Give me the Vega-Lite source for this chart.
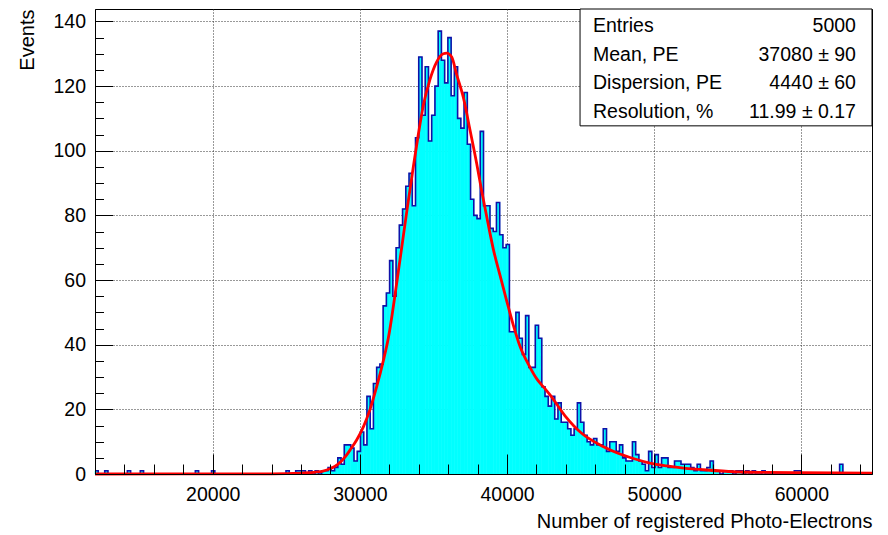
{
  "$schema": "https://vega.github.io/schema/vega-lite/v6.json",
  "width": 777,
  "height": 465,
  "autosize": {"type": "none"},
  "padding": {"left": 95, "top": 9, "right": 16, "bottom": 61},
  "background": "white",
  "config": {
    "view": {"stroke": "black", "strokeWidth": 1},
    "font": "Liberation Sans",
    "axis": {
      "labelFont": "Liberation Sans",
      "titleFont": "Liberation Sans",
      "labelColor": "black",
      "titleColor": "black",
      "labelFontSize": 19.5,
      "titleFontSize": 20,
      "titleFontWeight": "normal",
      "tickColor": "black",
      "tickWidth": 1,
      "domainColor": "black",
      "domainWidth": 1,
      "gridColor": "#333333",
      "gridDash": [1, 2],
      "gridWidth": 1
    }
  },
  "datasets": {
    "hist": [
      {"x0":12000,"x1":12220,"n":1},{"x0":12220,"x1":12440,"n":0},{"x0":12440,"x1":12660,"n":0},{"x0":12660,"x1":12880,"n":1},
      {"x0":12880,"x1":13100,"n":0},{"x0":13100,"x1":13320,"n":0},{"x0":13320,"x1":13540,"n":0},{"x0":13540,"x1":13760,"n":0},
      {"x0":13760,"x1":13980,"n":0},{"x0":13980,"x1":14200,"n":0},{"x0":14200,"x1":14420,"n":1},{"x0":14420,"x1":14640,"n":0},
      {"x0":14640,"x1":14860,"n":0},{"x0":14860,"x1":15080,"n":0},{"x0":15080,"x1":15300,"n":1},{"x0":15300,"x1":15520,"n":0},
      {"x0":15520,"x1":15740,"n":0},{"x0":15740,"x1":15960,"n":0},{"x0":15960,"x1":16180,"n":0},{"x0":16180,"x1":16400,"n":0},
      {"x0":16400,"x1":16620,"n":0},{"x0":16620,"x1":16840,"n":0},{"x0":16840,"x1":17060,"n":0},{"x0":17060,"x1":17280,"n":0},
      {"x0":17280,"x1":17500,"n":0},{"x0":17500,"x1":17720,"n":0},{"x0":17720,"x1":17940,"n":0},{"x0":17940,"x1":18160,"n":0},
      {"x0":18160,"x1":18380,"n":0},{"x0":18380,"x1":18600,"n":0},{"x0":18600,"x1":18820,"n":0},{"x0":18820,"x1":19040,"n":1},
      {"x0":19040,"x1":19260,"n":0},{"x0":19260,"x1":19480,"n":0},{"x0":19480,"x1":19700,"n":0},{"x0":19700,"x1":19920,"n":0},
      {"x0":19920,"x1":20140,"n":1},{"x0":20140,"x1":20360,"n":0},{"x0":20360,"x1":20580,"n":0},{"x0":20580,"x1":20800,"n":0},
      {"x0":20800,"x1":21020,"n":0},{"x0":21020,"x1":21240,"n":0},{"x0":21240,"x1":21460,"n":0},{"x0":21460,"x1":21680,"n":0},
      {"x0":21680,"x1":21900,"n":0},{"x0":21900,"x1":22120,"n":0},{"x0":22120,"x1":22340,"n":0},{"x0":22340,"x1":22560,"n":0},
      {"x0":22560,"x1":22780,"n":0},{"x0":22780,"x1":23000,"n":0},{"x0":23000,"x1":23220,"n":0},{"x0":23220,"x1":23440,"n":0},
      {"x0":23440,"x1":23660,"n":0},{"x0":23660,"x1":23880,"n":0},{"x0":23880,"x1":24100,"n":0},{"x0":24100,"x1":24320,"n":0},
      {"x0":24320,"x1":24540,"n":0},{"x0":24540,"x1":24760,"n":0},{"x0":24760,"x1":24980,"n":0},{"x0":24980,"x1":25200,"n":1},
      {"x0":25200,"x1":25420,"n":0},{"x0":25420,"x1":25640,"n":0},{"x0":25640,"x1":25860,"n":1},{"x0":25860,"x1":26080,"n":1},
      {"x0":26080,"x1":26300,"n":1},{"x0":26300,"x1":26520,"n":0},{"x0":26520,"x1":26740,"n":1},{"x0":26740,"x1":26960,"n":0},
      {"x0":26960,"x1":27180,"n":1},{"x0":27180,"x1":27400,"n":0},{"x0":27400,"x1":27620,"n":1},{"x0":27620,"x1":27840,"n":1},
      {"x0":27840,"x1":28060,"n":2},{"x0":28060,"x1":28280,"n":1},{"x0":28280,"x1":28500,"n":2},{"x0":28500,"x1":28720,"n":5},
      {"x0":28720,"x1":28940,"n":3},{"x0":28940,"x1":29160,"n":9},{"x0":29160,"x1":29380,"n":9},{"x0":29380,"x1":29600,"n":8},
      {"x0":29600,"x1":29820,"n":4},{"x0":29820,"x1":30040,"n":7},{"x0":30040,"x1":30260,"n":13},{"x0":30260,"x1":30480,"n":9},
      {"x0":30480,"x1":30700,"n":24},{"x0":30700,"x1":30920,"n":14},{"x0":30920,"x1":31140,"n":28},{"x0":31140,"x1":31360,"n":33},
      {"x0":31360,"x1":31580,"n":34},{"x0":31580,"x1":31800,"n":52},{"x0":31800,"x1":32020,"n":56},{"x0":32020,"x1":32240,"n":66},
      {"x0":32240,"x1":32460,"n":55},{"x0":32460,"x1":32680,"n":70},{"x0":32680,"x1":32900,"n":77},{"x0":32900,"x1":33120,"n":82},
      {"x0":33120,"x1":33340,"n":89},{"x0":33340,"x1":33560,"n":93},{"x0":33560,"x1":33780,"n":83},{"x0":33780,"x1":34000,"n":104},
      {"x0":34000,"x1":34220,"n":129},{"x0":34220,"x1":34440,"n":111},{"x0":34440,"x1":34660,"n":126},{"x0":34660,"x1":34880,"n":103},
      {"x0":34880,"x1":35100,"n":111},{"x0":35100,"x1":35320,"n":120},{"x0":35320,"x1":35540,"n":137},{"x0":35540,"x1":35760,"n":128},
      {"x0":35760,"x1":35980,"n":121},{"x0":35980,"x1":36200,"n":135},{"x0":36200,"x1":36420,"n":117},{"x0":36420,"x1":36640,"n":126},
      {"x0":36640,"x1":36860,"n":110},{"x0":36860,"x1":37080,"n":107},{"x0":37080,"x1":37300,"n":118},{"x0":37300,"x1":37520,"n":102},
      {"x0":37520,"x1":37740,"n":85},{"x0":37740,"x1":37960,"n":80},{"x0":37960,"x1":38180,"n":79},{"x0":38180,"x1":38400,"n":106},
      {"x0":38400,"x1":38620,"n":83},{"x0":38620,"x1":38840,"n":83},{"x0":38840,"x1":39060,"n":76},{"x0":39060,"x1":39280,"n":75},
      {"x0":39280,"x1":39500,"n":84},{"x0":39500,"x1":39720,"n":74},{"x0":39720,"x1":39940,"n":70},{"x0":39940,"x1":40160,"n":71},
      {"x0":40160,"x1":40380,"n":44},{"x0":40380,"x1":40600,"n":44},{"x0":40600,"x1":40820,"n":50},{"x0":40820,"x1":41040,"n":42},
      {"x0":41040,"x1":41260,"n":37},{"x0":41260,"x1":41480,"n":49},{"x0":41480,"x1":41700,"n":33},{"x0":41700,"x1":41920,"n":33},
      {"x0":41920,"x1":42140,"n":46},{"x0":42140,"x1":42360,"n":42},{"x0":42360,"x1":42580,"n":27},{"x0":42580,"x1":42800,"n":24},
      {"x0":42800,"x1":43020,"n":21},{"x0":43020,"x1":43240,"n":24},{"x0":43240,"x1":43460,"n":17},{"x0":43460,"x1":43680,"n":22},
      {"x0":43680,"x1":43900,"n":16},{"x0":43900,"x1":44120,"n":16},{"x0":44120,"x1":44340,"n":14},{"x0":44340,"x1":44560,"n":12},
      {"x0":44560,"x1":44780,"n":14},{"x0":44780,"x1":45000,"n":22},{"x0":45000,"x1":45220,"n":16},{"x0":45220,"x1":45440,"n":12},
      {"x0":45440,"x1":45660,"n":10},{"x0":45660,"x1":45880,"n":9},{"x0":45880,"x1":46100,"n":11},{"x0":46100,"x1":46320,"n":9},
      {"x0":46320,"x1":46540,"n":9},{"x0":46540,"x1":46760,"n":14},{"x0":46760,"x1":46980,"n":7},{"x0":46980,"x1":47200,"n":10},
      {"x0":47200,"x1":47420,"n":10},{"x0":47420,"x1":47640,"n":7},{"x0":47640,"x1":47860,"n":9},{"x0":47860,"x1":48080,"n":5},
      {"x0":48080,"x1":48300,"n":4},{"x0":48300,"x1":48520,"n":4},{"x0":48520,"x1":48740,"n":10},{"x0":48740,"x1":48960,"n":6},
      {"x0":48960,"x1":49180,"n":4},{"x0":49180,"x1":49400,"n":3},{"x0":49400,"x1":49620,"n":1},{"x0":49620,"x1":49840,"n":7},
      {"x0":49840,"x1":50060,"n":2},{"x0":50060,"x1":50280,"n":6},{"x0":50280,"x1":50500,"n":2},{"x0":50500,"x1":50720,"n":5},
      {"x0":50720,"x1":50940,"n":5},{"x0":50940,"x1":51160,"n":2},{"x0":51160,"x1":51380,"n":2},{"x0":51380,"x1":51600,"n":4},
      {"x0":51600,"x1":51820,"n":4},{"x0":51820,"x1":52040,"n":3},{"x0":52040,"x1":52260,"n":3},{"x0":52260,"x1":52480,"n":3},
      {"x0":52480,"x1":52700,"n":2},{"x0":52700,"x1":52920,"n":1},{"x0":52920,"x1":53140,"n":3},{"x0":53140,"x1":53360,"n":1},
      {"x0":53360,"x1":53580,"n":1},{"x0":53580,"x1":53800,"n":2},{"x0":53800,"x1":54020,"n":4},{"x0":54020,"x1":54240,"n":1},
      {"x0":54240,"x1":54460,"n":1},{"x0":54460,"x1":54680,"n":0},{"x0":54680,"x1":54900,"n":1},{"x0":54900,"x1":55120,"n":1},
      {"x0":55120,"x1":55340,"n":1},{"x0":55340,"x1":55560,"n":0},{"x0":55560,"x1":55780,"n":1},{"x0":55780,"x1":56000,"n":1},
      {"x0":56000,"x1":56220,"n":0},{"x0":56220,"x1":56440,"n":1},{"x0":56440,"x1":56660,"n":0},{"x0":56660,"x1":56880,"n":1},
      {"x0":56880,"x1":57100,"n":0},{"x0":57100,"x1":57320,"n":0},{"x0":57320,"x1":57540,"n":1},{"x0":57540,"x1":57760,"n":0},
      {"x0":57760,"x1":57980,"n":0},{"x0":57980,"x1":58200,"n":0},{"x0":58200,"x1":58420,"n":0},{"x0":58420,"x1":58640,"n":0},
      {"x0":58640,"x1":58860,"n":0},{"x0":58860,"x1":59080,"n":0},{"x0":59080,"x1":59300,"n":0},{"x0":59300,"x1":59520,"n":0},
      {"x0":59520,"x1":59740,"n":1},{"x0":59740,"x1":59960,"n":1},{"x0":59960,"x1":60180,"n":0},{"x0":60180,"x1":60400,"n":0},
      {"x0":60400,"x1":60620,"n":0},{"x0":60620,"x1":60840,"n":0},{"x0":60840,"x1":61060,"n":0},{"x0":61060,"x1":61280,"n":0},
      {"x0":61280,"x1":61500,"n":0},{"x0":61500,"x1":61720,"n":0},{"x0":61720,"x1":61940,"n":0},{"x0":61940,"x1":62160,"n":0},
      {"x0":62160,"x1":62380,"n":0},{"x0":62380,"x1":62600,"n":0},{"x0":62600,"x1":62820,"n":3},{"x0":62820,"x1":63040,"n":0},
      {"x0":63040,"x1":63260,"n":0},{"x0":63260,"x1":63480,"n":0},{"x0":63480,"x1":63700,"n":0},{"x0":63700,"x1":63920,"n":0},
      {"x0":63920,"x1":64140,"n":0},{"x0":64140,"x1":64360,"n":0},{"x0":64360,"x1":64580,"n":0},{"x0":64580,"x1":64800,"n":0},
      {"x0":64800,"x1":64800,"n":0}
    ],
    "fit": [
      {"x":12000,"y":0},{"x":24000,"y":0.05},{"x":26000,"y":0.3},{"x":27000,"y":0.6},{"x":27500,"y":0.9},
      {"x":28000,"y":1.7},{"x":28500,"y":3},{"x":29000,"y":5.3},{"x":29330,"y":7.4},{"x":29780,"y":10.5},
      {"x":30230,"y":14.5},{"x":30690,"y":20},{"x":31140,"y":27},{"x":31590,"y":35},{"x":31930,"y":42},
      {"x":32500,"y":59},{"x":32840,"y":70},{"x":33180,"y":81},{"x":33630,"y":95},{"x":33970,"y":105},
      {"x":34310,"y":114},{"x":34760,"y":122},{"x":35220,"y":127.5},{"x":35670,"y":130},{"x":35900,"y":130.2},
      {"x":36240,"y":129},{"x":36580,"y":123.5},{"x":37030,"y":116.5},{"x":37480,"y":106.5},{"x":37940,"y":96},
      {"x":38280,"y":87.5},{"x":38730,"y":77},{"x":39070,"y":69.5},{"x":39520,"y":61.5},{"x":39980,"y":53.5},
      {"x":40430,"y":46},{"x":40880,"y":39.5},{"x":41560,"y":33},{"x":42010,"y":29.5},{"x":42460,"y":27},
      {"x":42920,"y":24.5},{"x":43940,"y":18},{"x":45070,"y":12.6},{"x":46320,"y":9},{"x":46660,"y":8.2},
      {"x":47500,"y":6.5},{"x":48580,"y":4.8},{"x":49700,"y":3.4},{"x":50850,"y":2.5},{"x":52000,"y":1.8},
      {"x":53110,"y":1.4},{"x":55380,"y":0.7},{"x":57600,"y":0.5},{"x":59910,"y":0.4},{"x":64800,"y":0.25}
    ],
    "stats": [
      {"stat": "Entries", "val": "5000"},
      {"stat": "Mean, PE", "val": "37080 ± 90"},
      {"stat": "Dispersion, PE", "val": "4440 ± 60"},
      {"stat": "Resolution, %", "val": "11.99 ± 0.17"}
    ]
  },
  "resolve": {"scale": {"y": "independent"}, "axis": {"x": "independent", "y": "independent"}},
  "layer": [
    {
      "resolve": {"axis": {"x": "independent", "y": "independent"}},
      "layer": [
        {
          "data": {"name": "hist"},
          "mark": {"type": "rect", "fill": "#00ffff", "stroke": "#00ffff", "strokeWidth": 0.6},
          "encoding": {
            "x": {"field": "x0", "type": "quantitative",
              "scale": {"domain": [12000, 64800], "nice": false, "zero": false},
              "axis": {"orient": "bottom", "values": [20000, 30000, 40000, 50000, 60000], "grid": true, "ticks": false, "labels": false, "domain": false, "title": null, "zindex": 0}},
            "x2": {"field": "x1"},
            "y": {"field": "n", "type": "quantitative",
              "scale": {"domain": [0, 143.85], "nice": false, "zero": true},
              "axis": {"orient": "left", "values": [20, 40, 60, 80, 100, 120, 140], "grid": true, "ticks": false, "labels": false, "domain": false, "title": null, "zindex": 0}},
            "y2": {"datum": 0}
          }
        },
        {
          "data": {"name": "hist"},
          "mark": {"type": "line", "interpolate": "step-after", "color": "#1010a8", "strokeWidth": 1.6},
          "encoding": {
            "x": {"field": "x0", "type": "quantitative",
              "axis": {"orient": "bottom", "values": [14000, 16000, 18000, 20000, 22000, 24000, 26000, 28000, 30000, 32000, 34000, 36000, 38000, 40000, 42000, 44000, 46000, 48000, 50000, 52000, 54000, 56000, 58000, 60000, 62000, 64000], "grid": false, "labels": false, "domain": false, "title": null, "tickSize": -10, "zindex": 1}},
            "y": {"field": "n", "type": "quantitative",
              "axis": {"orient": "left", "values": [5, 10, 15, 20, 25, 30, 35, 40, 45, 50, 55, 60, 65, 70, 75, 80, 85, 90, 95, 100, 105, 110, 115, 120, 125, 130, 135, 140], "grid": false, "labels": false, "domain": false, "title": null, "tickSize": -8.5, "zindex": 1}}
          }
        },
        {
          "data": {"name": "fit"},
          "mark": {"type": "line", "interpolate": "monotone", "color": "#ff0000", "strokeWidth": 2.8},
          "encoding": {
            "x": {"field": "x", "type": "quantitative",
              "axis": {"orient": "bottom", "values": [20000, 30000, 40000, 50000, 60000], "format": "d", "grid": false, "domain": true, "tickSize": -20, "labelPadding": 31, "title": "Number of registered Photo-Electrons", "titleAnchor": "end", "titleAlign": "right", "titlePadding": 8, "zindex": 1}},
            "y": {"field": "y", "type": "quantitative",
              "axis": {"orient": "left", "values": [0, 20, 40, 60, 80, 100, 120, 140], "grid": false, "domain": true, "tickSize": -17.5, "labelPadding": 27, "title": "Events", "titleAnchor": "end", "titlePadding": 15, "zindex": 1}}
          }
        },
        {
          "data": {"values": [{}]},
          "mark": {"type": "rect", "fill": "white", "stroke": "black", "strokeWidth": 1},
          "encoding": {
            "x": {"datum": 44960, "type": "quantitative", "axis": null},
            "x2": {"datum": 64800},
            "y": {"datum": 107.7, "type": "quantitative", "axis": null},
            "y2": {"datum": 143.85}
          }
        }
      ]
    },
    {
      "data": {"name": "stats"},
      "layer": [
        {
          "mark": {"type": "text", "align": "left", "baseline": "middle", "font": "Liberation Sans", "fontSize": 19.5, "color": "black"},
          "encoding": {
            "x": {"datum": 45840, "type": "quantitative", "axis": null},
            "y": {"field": "stat", "type": "nominal", "sort": null, "scale": {"type": "point", "range": [17, 103], "padding": 0}, "axis": null},
            "text": {"field": "stat"}
          }
        },
        {
          "mark": {"type": "text", "align": "right", "baseline": "middle", "font": "Liberation Sans", "fontSize": 19.5, "color": "black"},
          "encoding": {
            "x": {"datum": 63710, "type": "quantitative", "axis": null},
            "y": {"field": "stat", "type": "nominal", "sort": null, "scale": {"type": "point", "range": [17, 103], "padding": 0}, "axis": null},
            "text": {"field": "val"}
          }
        }
      ]
    }
  ]
}
